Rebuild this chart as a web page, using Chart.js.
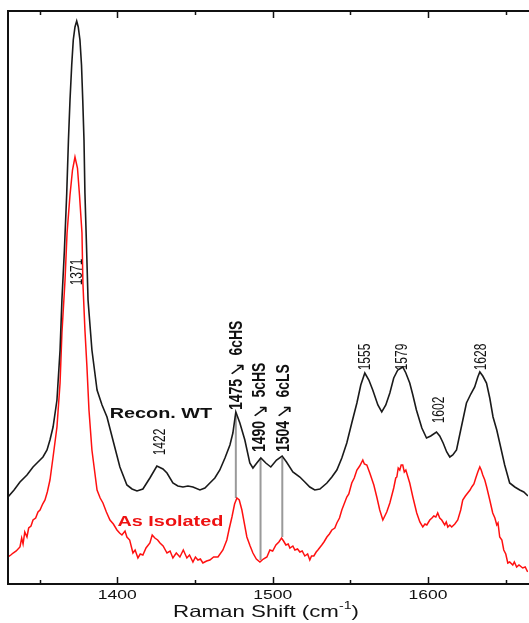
<!DOCTYPE html>
<html>
<head>
<meta charset="utf-8">
<script src="https://cdn.jsdelivr.net/npm/chart.js@4.4.1/dist/chart.umd.min.js"></script>
<style>
  html, body { margin: 0; padding: 0; background: #fff; }
  #wrap { width: 529px; height: 623px; position: relative; }
</style>
</head>
<body>
<div id="wrap"><canvas id="chart"></canvas></div>
<script>
// Raman shift (cm-1) and intensity (arb. units)
const reconShift = [
  1329.7, 1333.6, 1337.4, 1341.9, 1345.8, 1349.0, 1352.2, 1354.8, 1356.7, 1358.7,
  1361.2, 1363.2, 1364.4, 1366.0, 1367.5, 1368.6, 1369.6, 1370.7, 1371.7, 1372.8,
  1373.9, 1374.9, 1376.0, 1377.0, 1377.8, 1378.6, 1379.2, 1380.2, 1381.2, 1383.7,
  1387.0, 1390.2, 1393.4, 1397.2, 1401.7, 1406.2, 1409.5, 1412.7, 1416.5, 1421.0,
  1425.5, 1429.4, 1432.0, 1435.8, 1439.0, 1442.3, 1445.5, 1448.7, 1453.2, 1456.4,
  1459.6, 1462.8, 1466.0, 1469.3, 1472.5, 1474.4, 1476.3, 1478.9, 1482.1, 1485.3,
  1487.3, 1489.8, 1492.4, 1495.6, 1498.8, 1502.5, 1506.1, 1508.9, 1513.0, 1517.5,
  1520.7, 1523.9, 1527.1, 1530.4, 1534.9, 1538.1, 1541.3, 1544.5, 1547.7, 1550.9,
  1554.2, 1556.7, 1559.3, 1561.9, 1564.4, 1567.7, 1570.2, 1572.8, 1575.4, 1577.9,
  1580.5, 1583.7, 1585.7, 1588.2, 1590.2, 1592.5, 1596.0, 1599.0, 1601.7, 1605.4,
  1607.5, 1609.7, 1612.0, 1614.0, 1615.9, 1618.3, 1621.0, 1624.7, 1627.5, 1630.0,
  1632.0, 1633.3, 1635.2, 1637.6, 1639.7, 1641.8, 1644.2, 1646.1, 1649.3, 1652.5,
  1655.8, 1659.0, 1661.6, 1664.3
];
const reconIntensity = [
  87, 94, 102, 109, 117, 122, 127, 134, 144, 157,
  184, 234, 284, 334, 391, 444, 484, 519, 544, 557,
  563, 557, 544, 519, 484, 444, 391, 339, 284, 234,
  194, 179, 167, 144, 117, 99, 95, 93, 95, 106,
  118, 115, 111, 101, 98, 97, 98, 97, 94, 96,
  101, 106, 114, 126, 139, 151, 172, 161, 144, 121,
  116, 121, 126, 121, 117, 124, 128, 122, 112, 107,
  102, 97, 94, 95, 101, 107, 114, 126, 141, 161,
  181, 199, 211, 204, 194, 179, 172, 179, 191, 206,
  214, 217, 211, 201, 189, 174, 156, 146, 148, 152,
  148, 141, 132, 127, 129, 134, 154, 181, 190, 197,
  207, 212, 208, 201, 186, 167, 154, 141, 119, 101,
  97, 94, 92, 88
];

const isoShift = [
  1329.7, 1331.5, 1333.0, 1335.0, 1337.4, 1338.5, 1339.4, 1340.5, 1341.9, 1343.0,
  1344.5, 1345.8, 1347.5, 1349.0, 1350.3, 1352.0, 1353.5, 1355.0, 1356.7, 1358.7,
  1361.2, 1363.2, 1364.4, 1366.4, 1367.7, 1369.6, 1371.2, 1372.8, 1374.4, 1375.7,
  1377.3, 1377.9, 1379.2, 1380.5, 1381.8, 1383.7, 1387.0, 1389.0, 1390.8, 1393.0,
  1395.3, 1397.5, 1399.8, 1401.5, 1403.0, 1405.0, 1406.2, 1408.0, 1410.1, 1411.5,
  1413.3, 1414.8, 1416.5, 1418.5, 1421.0, 1422.5, 1424.2, 1426.0, 1427.5, 1429.5,
  1432.0, 1434.0, 1435.8, 1438.0, 1440.3, 1442.5, 1444.8, 1446.5, 1448.7, 1450.3,
  1451.9, 1453.5, 1455.1, 1457.5, 1459.6, 1462.0, 1464.8, 1468.0, 1470.5, 1472.0,
  1473.8, 1475.5, 1477.0, 1478.5, 1480.2, 1483.4, 1485.5, 1487.3, 1489.5, 1491.8,
  1494.0, 1496.3, 1498.2, 1500.0, 1502.1, 1504.0, 1505.7, 1507.0, 1508.5, 1510.0,
  1511.1, 1513.0, 1514.3, 1516.0, 1517.5, 1519.0, 1520.7, 1522.5, 1523.9, 1525.0,
  1526.5, 1528.0, 1529.1, 1531.6, 1533.0, 1534.9, 1536.5, 1538.1, 1540.0, 1541.3,
  1543.0, 1544.5, 1547.7, 1549.0, 1550.9, 1552.5, 1554.2, 1556.0, 1558.0, 1559.0,
  1560.6, 1562.5, 1565.1, 1567.0, 1568.9, 1570.9, 1573.4, 1575.4, 1577.9, 1579.2,
  1579.9, 1580.8, 1581.8, 1582.7, 1583.7, 1584.7, 1585.7, 1588.2, 1590.2, 1592.7,
  1594.7, 1596.6, 1598.0, 1599.2, 1601.1, 1602.5, 1603.7, 1605.0, 1606.2, 1607.5,
  1608.8, 1610.7, 1611.7, 1612.7, 1614.0, 1615.2, 1617.2, 1619.1, 1621.0, 1622.3,
  1624.0, 1625.5, 1627.0, 1628.1, 1629.5, 1630.7, 1632.0, 1633.3, 1634.2, 1635.2,
  1636.5, 1637.7, 1639.7, 1641.6, 1643.0, 1644.2, 1645.0, 1646.1, 1647.5, 1648.7,
  1650.0, 1651.3, 1652.5, 1654.5, 1655.5, 1657.0, 1658.5, 1660.9, 1662.5, 1664.1
];
const isoIntensity = [
  27, 29, 31, 33, 37, 46, 40, 52, 47, 56,
  58, 64, 66, 72, 74, 80, 84, 92, 104, 127,
  157, 201, 251, 304, 351, 389, 414, 427, 416, 389,
  351, 301, 254, 217, 174, 134, 94, 86, 81, 72,
  64, 60, 54, 51, 49, 53, 47, 44, 31, 34,
  26, 30, 29, 36, 41, 49, 46, 44, 41, 38,
  31, 33, 26, 31, 27, 34, 26, 29, 22, 27,
  24, 25, 21, 23, 24, 27, 27, 34, 44, 55,
  67, 80, 86, 84, 74, 47, 38, 31, 25, 22,
  25, 27, 34, 33, 39, 42, 46, 43, 39, 40,
  36, 38, 34, 35, 32, 33, 28, 30, 24, 28,
  28, 32, 34, 39, 42, 47, 50, 54, 56, 61,
  66, 74, 87, 90, 101, 106, 114, 118, 124, 120,
  119, 111, 99, 87, 74, 64, 72, 81, 96, 106,
  107, 116, 114, 119, 119, 112, 114, 101, 87, 71,
  62, 57, 60, 59, 64, 66, 68, 67, 71, 66,
  64, 59, 62, 57, 59, 57, 60, 64, 74, 84,
  88, 91, 94, 97, 100, 106, 112, 117, 114, 109,
  104, 97, 84, 71, 66, 59, 61, 47, 44, 34,
  30, 21, 22, 19, 22, 17, 19, 16, 17, 12
];

// band markers joining the two traces
const markerShift = [1476.3, 1492.2, 1506.2];
const markerTop = [168, 126, 126];
const markerBottom = [86, 24, 47];

const xTicks = [1350, 1400, 1450, 1500, 1550, 1600, 1650];
const xLabels = [1400, 1500, 1600];

// annotation texts (x in cm-1, y in intensity units)
const peakLabels = [
  { text: "1371", x: 1374.7, y: 312 },
  { text: "1422", x: 1428.1, y: 142 },
  { text: "1555", x: 1559.9, y: 227 },
  { text: "1579", x: 1583.7, y: 227 },
  { text: "1602", x: 1607.2, y: 174 },
  { text: "1628", x: 1634.5, y: 227 },
];
// y is where the rotated text starts (its lower end)
const bandLabels = [
  { num: "1475", name: "6cHS", x: 1477.0, y: 174 },
  { num: "1490", name: "5cHS", x: 1491.8, y: 132 },
  { num: "1504", name: "6cLS", x: 1507.5, y: 132 },
];
const seriesLabels = [
  { text: "Recon. WT", x: 1428.1, y: 170, color: "#111111" },
  { text: "As Isolated", x: 1434.2, y: 62.5, color: "#ee1111" },
];

const FONT = "'Liberation Sans', Arial, sans-serif";
const STRETCH = 1.32;

function toPoints(xs, ys) {
  return xs.map((x, i) => ({ x, y: ys[i] }));
}

function stretchedText(ctx, text, x, y, font, color, rotate, sx) {
  ctx.save();
  ctx.translate(x, y);
  ctx.scale(sx, 1);
  if (rotate) ctx.rotate(-Math.PI / 2);
  ctx.font = font;
  ctx.fillStyle = color;
  ctx.textAlign = "center";
  ctx.textBaseline = "middle";
  ctx.fillText(text, 0, 0);
  ctx.restore();
}

function bandText(ctx, l, x, y) {
  ctx.save();
  ctx.translate(x, y);
  ctx.scale(STRETCH, 1);
  ctx.rotate(-Math.PI / 2);
  ctx.fillStyle = "#111";
  ctx.textAlign = "left";
  ctx.textBaseline = "middle";
  let pos = 0;
  ctx.font = "bold 14px " + FONT;
  ctx.fillText(l.num, pos, 0);
  pos += ctx.measureText(l.num).width + 2;
  ctx.font = "17px 'DejaVu Sans', sans-serif";
  ctx.fillText("\u2198", pos, 1);
  pos += ctx.measureText("\u2198").width + 7;
  ctx.font = "bold 14px " + FONT;
  ctx.fillText(l.name, pos, 0);
  ctx.restore();
}

const framePlugin = {
  id: "frame",
  afterDraw(chart) {
    const { ctx, chartArea, scales } = chart;
    const xs = scales.x;
    const ys = scales.y;
    const { left, right, top, bottom } = chartArea;

    ctx.save();
    ctx.strokeStyle = "#111";
    ctx.lineWidth = 2;
    ctx.beginPath();
    ctx.moveTo(left, top);
    ctx.lineTo(right + 2, top);
    ctx.moveTo(left, top - 1);
    ctx.lineTo(left, bottom + 1);
    ctx.moveTo(left - 1, bottom);
    ctx.lineTo(right + 2, bottom);
    ctx.stroke();

    ctx.lineWidth = 1.5;
    ctx.beginPath();
    for (const v of xTicks) {
      const px = Math.round(xs.getPixelForValue(v)) + 0.5;
      const len = v % 100 === 0 ? 7 : 4;
      ctx.moveTo(px, bottom);
      ctx.lineTo(px, bottom - len);
      ctx.moveTo(px, top);
      ctx.lineTo(px, top + len);
    }
    ctx.stroke();
    ctx.restore();

    for (const v of xLabels) {
      stretchedText(ctx, String(v), xs.getPixelForValue(v), bottom + 12,
        "12.5px " + FONT, "#111", false, 1.4);
    }

    // axis title with superscript
    ctx.save();
    const cx = (left + right) / 2 - 2;
    const cy = bottom + 28;
    ctx.translate(cx, cy);
    ctx.scale(1.35, 1);
    const mainFont = "16.5px " + FONT;
    const supFont = "10.5px " + FONT;
    ctx.font = mainFont;
    const w1 = ctx.measureText("Raman Shift (cm").width;
    const w3 = ctx.measureText(")").width;
    ctx.font = supFont;
    const w2 = ctx.measureText("-1").width;
    const x0 = -(w1 + w2 + w3) / 2;
    ctx.fillStyle = "#111";
    ctx.textBaseline = "middle";
    ctx.textAlign = "left";
    ctx.font = mainFont;
    ctx.fillText("Raman Shift (cm", x0, 0);
    ctx.font = supFont;
    ctx.fillText("-1", x0 + w1, -6);
    ctx.font = mainFont;
    ctx.fillText(")", x0 + w1 + w2, 0);
    ctx.restore();

    for (const l of peakLabels) {
      stretchedText(ctx, l.text, xs.getPixelForValue(l.x), ys.getPixelForValue(l.y),
        "12px " + FONT, "#111", true, STRETCH);
    }
    for (const l of bandLabels) {
      bandText(ctx, l, xs.getPixelForValue(l.x), ys.getPixelForValue(l.y));
    }
    for (const l of seriesLabels) {
      stretchedText(ctx, l.text, xs.getPixelForValue(l.x), ys.getPixelForValue(l.y),
        "bold 15.5px " + FONT, l.color, false, 1.28);
    }
  },
};

const datasets = [
  {
    label: "Recon. WT",
    data: toPoints(reconShift, reconIntensity),
    borderColor: "#1a1a1a",
    borderWidth: 1.6,
  },
  {
    label: "As Isolated",
    data: toPoints(isoShift, isoIntensity),
    borderColor: "#ff1010",
    borderWidth: 1.5,
  },
];
markerShift.forEach((x, i) => {
  datasets.push({
    label: "marker" + i,
    data: [{ x, y: markerTop[i] }, { x, y: markerBottom[i] }],
    borderColor: "#9a9a9a",
    borderWidth: 2,
  });
});

new Chart(document.getElementById("chart"), {
  type: "line",
  data: { datasets },
  options: {
    animation: false,
    responsive: true,
    maintainAspectRatio: false,
    parsing: false,
    elements: {
      point: { radius: 0, hoverRadius: 0 },
      line: { tension: 0, fill: false },
    },
    layout: { padding: { left: 8, top: 11, right: 1, bottom: 39 } },
    plugins: {
      legend: { display: false },
      tooltip: { enabled: false },
    },
    scales: {
      x: { type: "linear", min: 1329.7, max: 1664.3, display: false },
      y: { type: "linear", min: 0, max: 573, display: false },
    },
  },
  plugins: [framePlugin],
});
</script>
</body>
</html>
